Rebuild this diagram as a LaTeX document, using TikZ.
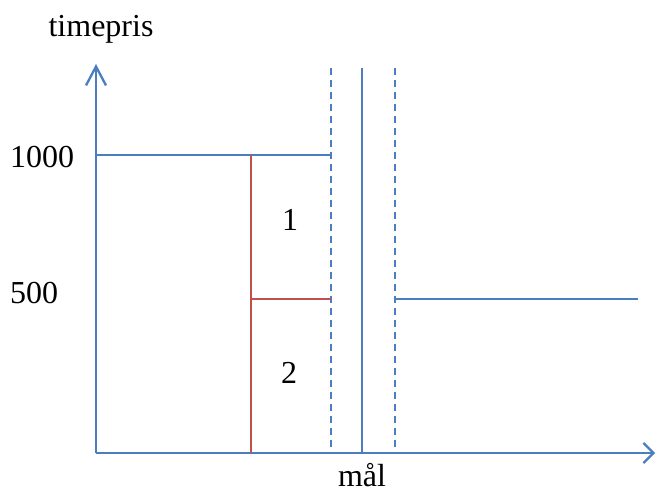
\documentclass[tikz,border=0pt]{standalone}
\usepackage{fontspec}
\setmainfont{Liberation Serif}
\usetikzlibrary{arrows.meta}
\definecolor{lblue}{RGB}{74,126,193}
\definecolor{lred}{RGB}{192,80,77}
\tikzset{
  bl/.style={draw=lblue, line width=2.3pt},
  rd/.style={draw=lred, line width=2pt},
  dsh/.style={draw=lblue, line width=2.3pt, dash pattern=on 7pt off 5pt},
  lbl/.style={anchor=base, inner sep=0pt, font=\fontsize{32}{38}\selectfont}
}
\begin{document}
\begin{tikzpicture}[x=1pt,y=-1pt]
\useasboundingbox (0,0) rectangle (658,492);
% axes
\coordinate (o) at (96,453);
\coordinate (ytip) at (96,64);
\coordinate (xtip) at (655,453);
\draw[bl, -{Straight Barb[length=19pt,width=20pt,line width=2.3pt]}] (o) -- (ytip);
\draw[bl, -{Straight Barb[length=10pt,width=20pt,line width=2.3pt]}] (o) -- (xtip);
% 1000 line
\coordinate (a1) at (96,155);
\coordinate (a2) at (331,155);
\draw[bl] (a1) -- (a2);
% verticals
\coordinate (d1t) at (331,68); \coordinate (d1b) at (331,453);
\coordinate (d2t) at (395,68); \coordinate (d2b) at (395,453);
\coordinate (st) at (362,68); \coordinate (sb) at (362,453);
\draw[dsh] (d1t) -- (d1b);
\draw[dsh] (d2t) -- (d2b);
\draw[bl] (st) -- (sb);
% red
\coordinate (r1) at (251,155); \coordinate (r2) at (251,453);
\coordinate (r3) at (251,299); \coordinate (r4) at (331,299);
\draw[rd] (r1) -- (r2);
\draw[rd] (r3) -- (r4);
% 500 right line
\coordinate (b1) at (395,299); \coordinate (b2) at (638,299);
\draw[bl] (b1) -- (b2);
% labels
\node[lbl] (tp) at (101,37) {timepris};
\node[lbl] (t1000) at (42,167) {1000};
\node[lbl] (t500) at (34,303) {500};
\node[lbl] (n1) at (290,230) {1};
\node[lbl] (n2) at (289,383) {2};
\node[lbl] (mal) at (362,486) {mål};
\end{tikzpicture}
\end{document}
